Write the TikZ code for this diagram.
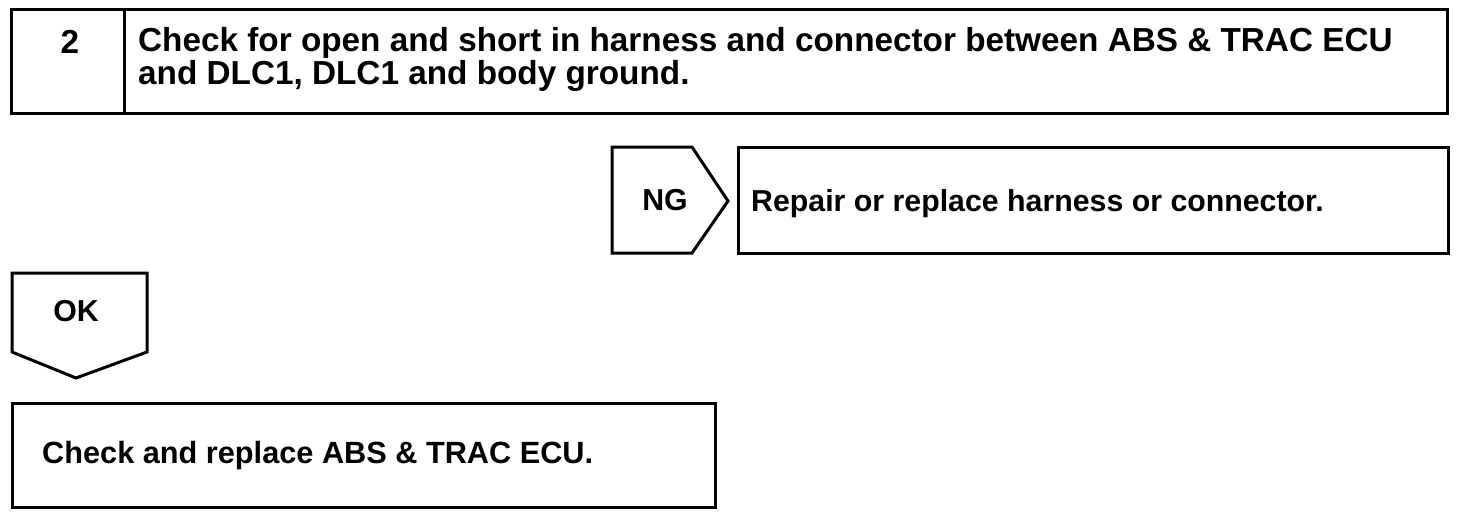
\documentclass[tikz,border=0pt]{standalone}
\usepackage{fontspec}
\setmainfont{Liberation Sans}
\tikzset{
  frame/.style={draw, line width=3pt, line join=miter},
  label/.style={font=\bfseries\fontsize{30.3}{31}\selectfont, inner sep=0pt},
  title/.style={font=\bfseries\fontsize{33.3}{31}\selectfont, inner sep=0pt}
}
\begin{document}
\begin{tikzpicture}[x=1pt,y=-1pt]
  \useasboundingbox (0,0) rectangle (1472,514);
  % step header
  \draw[frame] (11,9) rectangle (1447,113);
  \draw[frame] (124,9) -- (124,113);
  \node[title, anchor=base] (stepnum) at (70,53) {2};
  \node[title, anchor=base west, align=left] (stepcheck) at (138,84)
    {Check for open and short in harness and connector between ABS \& TRAC ECU\\and DLC1, DLC1 and body ground.};
  % NG branch
  \draw[frame] (612,147) -- (692,147) -- (728,201) -- (692,253) -- (612,253) -- cycle;
  \node[label, anchor=base] (ng) at (665,210) {NG};
  \draw[frame] (738,147) rectangle (1448,253);
  \node[label, anchor=base west] (repair) at (751,211) {Repair or replace harness or connector.};
  % OK branch
  \draw[frame] (12,273) -- (147,273) -- (147,352) -- (76,378) -- (12,352) -- cycle;
  \node[label, anchor=base] (ok) at (76,321) {OK};
  \draw[frame] (12,403) rectangle (715,507);
  \node[label, font=\bfseries\fontsize{30.7}{31}\selectfont, anchor=base west] (ecu) at (42,463) {Check and replace ABS \& TRAC ECU.};
\end{tikzpicture}
\end{document}
